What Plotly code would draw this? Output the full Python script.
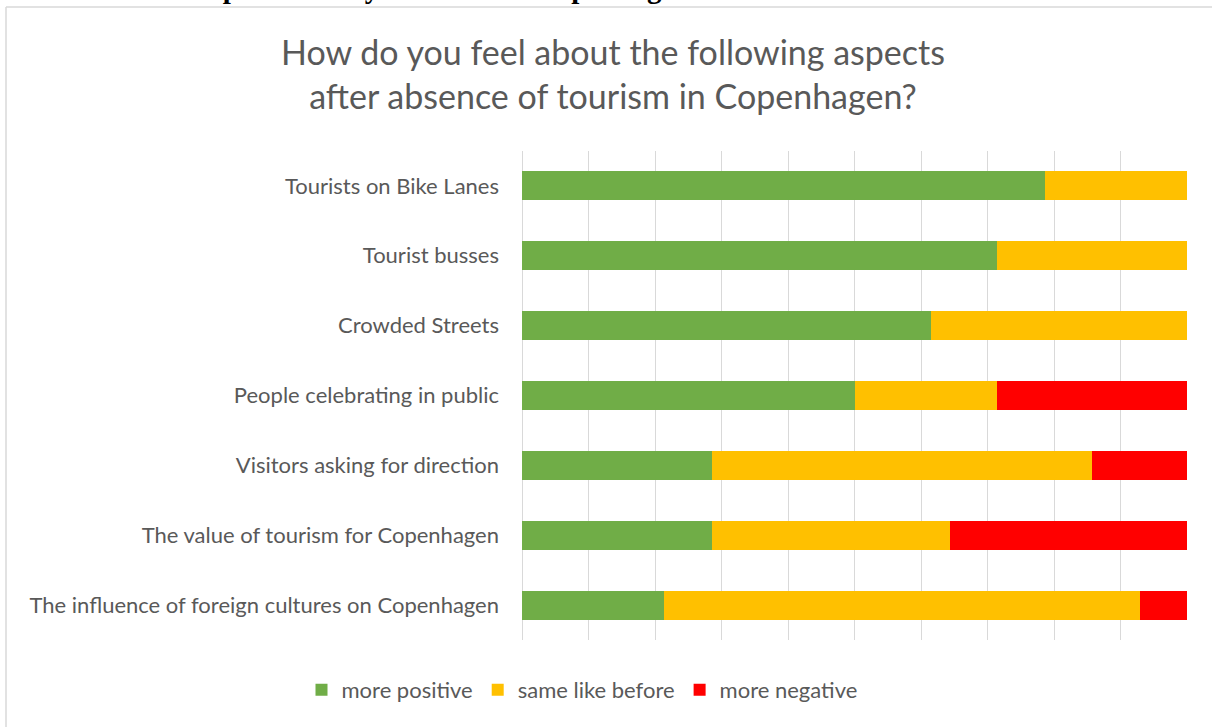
import plotly.graph_objects as go

categories = [
    "Tourists on Bike Lanes",
    "Tourist busses",
    "Crowded Streets",
    "People celebrating in public",
    "Visitors asking for direction",
    "The value of tourism for Copenhagen",
    "The influence of foreign cultures on Copenhagen",
]
more_positive = [78.6, 71.4, 61.5, 50.0, 28.6, 28.6, 21.4]
same_like_before = [21.4, 28.6, 38.5, 21.4, 57.1, 35.7, 71.5]
more_negative = [0.0, 0.0, 0.0, 28.6, 14.3, 35.7, 7.1]

series = [
    ("more positive", more_positive, "#70AD47"),
    ("same like before", same_like_before, "#FFC000"),
    ("more negative", more_negative, "#FF0000"),
]

W, H = 1212, 727
L, R, T, B = 522, 25, 151, 87
PW, PH = W - L - R, H - T - B

def px_x(px):
    return (px - L) / PW

def px_y(py):
    return (H - B - py) / PH

fig = go.Figure()
for name, vals, color in series:
    fig.add_trace(go.Bar(
        name=name, y=categories, x=vals, orientation="h",
        marker=dict(color=color, line=dict(width=0)),
        hoverinfo="x+y+name",
    ))

fig.update_layout(
    width=W, height=H,
    barmode="stack", barnorm="percent",
    bargap=0.585,
    margin=dict(l=L, r=R, t=T, b=B),
    paper_bgcolor="white", plot_bgcolor="white",
    font=dict(family="Lato, Open Sans, sans-serif", color="#595959", size=21),
    title=dict(
        text="How do you feel about the following aspects<br>after absence of tourism in Copenhagen?",
        x=613 / W, xanchor="center", xref="container",
        y=1 - 65 / H, yanchor="middle", yref="container",
        font=dict(size=34, color="#595959", family="Lato, Open Sans, sans-serif"),
    ),
    xaxis=dict(
        range=[0, 100], dtick=10, showticklabels=False,
        showgrid=True, gridcolor="#D9D9D9", gridwidth=1,
        zeroline=True, zerolinecolor="#D9D9D9", zerolinewidth=1,
        showline=False, fixedrange=True,
    ),
    yaxis=dict(
        categoryorder="array", categoryarray=categories, autorange="reversed",
        showgrid=False, zeroline=False, showline=False,
        ticks="", ticklabelstandoff=22,
        tickfont=dict(size=22, color="#595959"),
    ),
    legend=dict(
        orientation="h", xref="container", yref="container",
        x=582 / W, xanchor="center", y=1 - 690 / H, yanchor="middle",
        font=dict(size=22, color="#595959"),
        traceorder="normal", itemwidth=30,
    ),
    showlegend=True,
)

# outer chart border (top and left visible)
fig.add_shape(type="line", xref="paper", yref="paper",
              x0=px_x(6), x1=px_x(1230), y0=px_y(7), y1=px_y(7),
              line=dict(color="#D9D9D9", width=1.5))
fig.add_shape(type="line", xref="paper", yref="paper",
              x0=px_x(6), x1=px_x(6), y0=px_y(7), y1=px_y(740),
              line=dict(color="#D9D9D9", width=1.5))

# cut-off document caption above the chart (only its lower edge shows)
fig.add_annotation(
    text="<b>How items were perceived by residents of Copenhagen</b>",
    xref="paper", yref="paper", x=px_x(16), y=px_y(6),
    xanchor="left", yanchor="bottom", showarrow=False,
    font=dict(family="Liberation Serif, Times New Roman, serif", size=29, color="black"),
)

fig.write_html("out.html")
